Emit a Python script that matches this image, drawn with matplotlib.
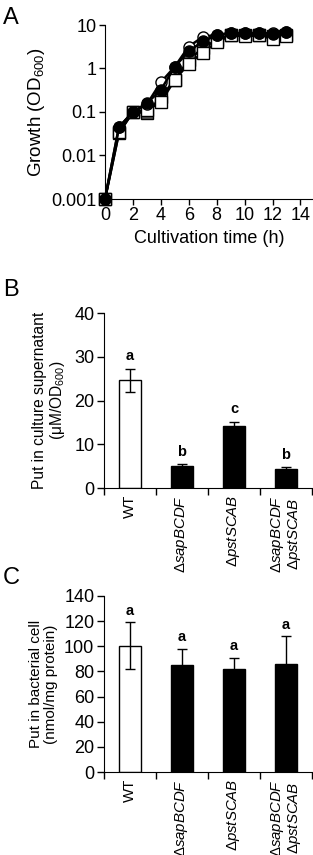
import matplotlib
matplotlib.use("Agg")
import matplotlib.pyplot as plt
import numpy as np

plt.rcParams['font.family'] = ['Liberation Sans', 'DejaVu Sans']
plt.rcParams['mathtext.fontset'] = 'custom'
plt.rcParams['mathtext.rm'] = 'Liberation Sans'
plt.rcParams['mathtext.it'] = 'Liberation Sans:italic'

# Panel A data
time_h = [0, 1, 2, 3, 4, 5, 6, 7, 8, 9, 10, 11, 12, 13]
od_wt = [0.001, 0.045, 0.1, 0.15, 0.48, 1.1, 3.2, 5.3, 6.0, 6.5, 6.5, 6.5, 6.5, 7.0]
od_sap = [0.001, 0.045, 0.1, 0.16, 0.32, 1.1, 2.5, 4.2, 5.8, 6.5, 6.5, 6.5, 6.3, 6.8]
od_pst = [0.001, 0.034, 0.1, 0.11, 0.17, 0.55, 1.3, 2.3, 4.0, 5.8, 5.5, 5.8, 4.8, 5.5]
od_dbl = [0.001, 0.033, 0.1, 0.095, 0.22, 0.55, 1.6, 2.9, 4.6, 6.0, 6.0, 6.0, 5.5, 6.0]

# Panel B/C data
strains = [r'WT', r'$\Delta\it{sapBCDF}$', r'$\Delta\it{pstSCAB}$',
           r'$\Delta\it{sapBCDF}$' + '\n' + r'$\Delta\it{pstSCAB}$']
sup_mean = [24.6, 5.1, 14.1, 4.4]
sup_err = [2.7, 0.4, 1.1, 0.4]
sup_letters = ['a', 'b', 'c', 'b']
cell_mean = [100.5, 85.0, 82.0, 86.0]
cell_err = [18.5, 13.0, 9.0, 22.0]
cell_letters = ['a', 'a', 'a', 'a']
bar_colors = ['white', 'black', 'black', 'black']

W, H = 313, 855
fig = plt.figure(figsize=(W / 100, H / 100), dpi=100)

def rect(l, t, r, b):
    return [l / W, 1 - b / H, (r - l) / W, (b - t) / H]

# ---- Panel A ----
axA = fig.add_axes(rect(105, 25, 313, 199))
series = [
    (od_dbl, dict(marker='s', mfc='#555555', mec='black')),
    (od_pst, dict(marker='s', mfc='white', mec='black')),
    (od_wt, dict(marker='o', mfc='white', mec='black')),
    (od_sap, dict(marker='o', mfc='black', mec='black')),
]
for ys, st in series:
    axA.plot(time_h, ys, color='black', lw=1.8, ms=8, mew=1.0, clip_on=False, **st)
axA.set_yscale('log')
axA.set_ylim(0.001, 10)
axA.set_xlim(0, 14.9)
axA.set_xticks(range(0, 15, 2))
axA.set_yticks([0.001, 0.01, 0.1, 1, 10])
axA.set_yticklabels(['0.001', '0.01', '0.1', '1', '10'])
axA.minorticks_off()
axA.spines['top'].set_visible(False)
axA.spines['right'].set_visible(False)
axA.tick_params(direction='out', length=4, width=1, labelsize=13, pad=2)
axA.set_xlabel('Cultivation time (h)', fontsize=13, labelpad=4)
axA.set_ylabel(r'Growth (OD$_{600}$)', fontsize=13.5, labelpad=3)
fig.text(3 / W, 1 - 18 / H, 'A', fontsize=17, va='center', ha='left')

def bar_panel(ax, means, errs, letters, ymax, step, letter_off):
    x = np.arange(len(means))
    ax.bar(x, means, width=0.41, color=bar_colors, edgecolor='black', linewidth=1.0)
    for xi, m, e in zip(x, means, errs):
        ax.errorbar(xi, m, yerr=e, color='black', capsize=3.5, elinewidth=1, capthick=1)
    for xi, m, e, L in zip(x, means, errs, letters):
        ax.text(xi, m + e + letter_off, L, ha='center', va='bottom', fontsize=10.5, fontweight='bold')
    ax.set_xlim(-0.5, len(means) - 0.5)
    ax.set_ylim(0, ymax)
    ax.set_yticks(np.arange(0, ymax + 1, step))
    ax.set_xticks(x)
    ax.set_xticklabels(strains, rotation=90, fontsize=10.8, linespacing=1.0)
    ax.set_xticks(np.arange(-0.5, len(means), 1), minor=True)
    ax.tick_params(axis='x', which='major', length=0, pad=5)
    ax.tick_params(axis='x', which='minor', length=5, width=1, direction='out')
    ax.tick_params(axis='y', length=5, width=1, direction='out', labelsize=13, pad=2)
    ax.spines['top'].set_visible(False)
    ax.spines['right'].set_visible(False)

# ---- Panel B ----
axB = fig.add_axes(rect(104, 313, 312, 488))
bar_panel(axB, sup_mean, sup_err, sup_letters, 40, 10, 1.2)
axB.set_ylabel('Put in culture supernatant\n' + r'($\mathregular{\mu}$M/OD$_{600}$)', fontsize=11.2, labelpad=5, linespacing=1.1)
fig.text(3 / W, 1 - 290 / H, 'B', fontsize=17, va='center', ha='left')

# ---- Panel C ----
axC = fig.add_axes(rect(104, 596, 312, 772))
bar_panel(axC, cell_mean, cell_err, cell_letters, 140, 20, 3.5)
axC.set_ylabel('Put in bacterial cell\n(nmol/mg protein)', fontsize=11, labelpad=4, linespacing=1.1)
fig.text(3 / W, 1 - 578 / H, 'C', fontsize=17, va='center', ha='left')

fig.savefig('out.png', dpi=100)
